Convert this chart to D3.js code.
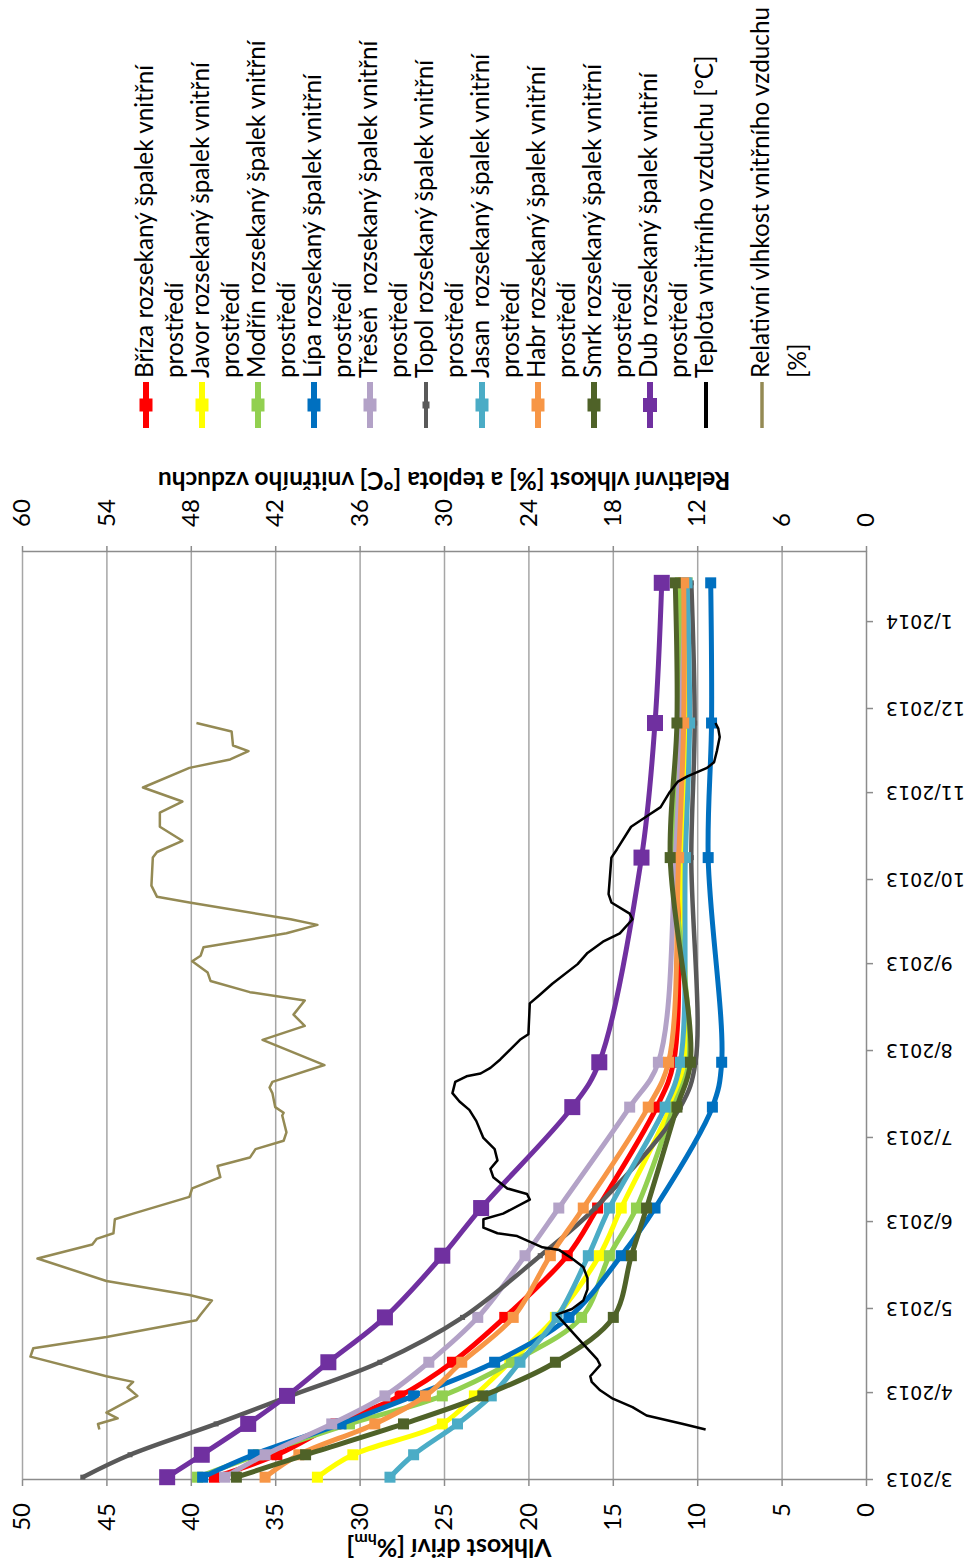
<!DOCTYPE html>
<html><head><meta charset="utf-8">
<script src="https://cdn.jsdelivr.net/npm/d3@7"></script>
<style>
body{margin:0;background:#fff}
svg{display:block}
text{white-space:pre}
</style>
</head><body>
<svg id="c" width="977" height="1566"></svg>
<script>
// ---------- DATA ----------
const measureDates = ["2013-03-02","2013-03-10","2013-03-21","2013-03-31","2013-04-12","2013-04-28","2013-05-20","2013-06-06","2013-07-12","2013-07-28","2013-10-09","2013-11-26","2014-01-15"];

const briza  = [38.6,34.9,31.4,27.6,24.5,21.4,17.7,15.9,12.4,11.4,11.05,10.7,10.7];
const javor  = [32.5,30.4,25.1,23.2,21.1,18.4,15.8,14.5,11.6,10.8,10.9,10.6,10.6];
const modrin = [39.6,36.0,30.6,25.1,21.0,16.85,15.2,13.6,11.4,10.5,11.4,11.0,11.0];
const lipa   = [39.3,36.3,31.1,26.8,22.0,17.6,14.5,12.5,9.1,8.55,9.35,9.15,9.2];
const tresen = [38.0,35.6,31.65,28.5,25.9,23.0,20.2,18.2,14.0,12.3,11.3,10.95,10.7];
const topol  = [46.4,43.6,38.5,34.1,28.8,23.9,19.3,16.05,11.0,10.1,10.35,10.15,10.35];
const jasan  = [28.2,26.8,24.2,22.2,20.5,18.3,16.45,15.2,11.9,11.0,10.7,10.45,10.6];
const habr   = [35.6,33.6,29.1,26.1,23.95,20.9,18.7,16.75,12.9,11.7,11.1,10.8,10.8];
const smrk   = [37.3,33.2,27.4,22.7,18.4,14.97,13.9,13.0,11.2,10.4,11.6,11.2,11.3];
const dub    = [41.4,39.35,36.6,34.3,31.85,28.5,25.1,22.8,17.4,15.8,13.3,12.5,12.1];

const tempDates = ["2013-03-19","2013-03-21","2013-03-24","2013-03-27","2013-03-30","2013-04-02","2013-04-05","2013-04-07","2013-04-11","2013-04-13","2013-04-19","2013-04-29","2013-05-01","2013-05-04","2013-05-08","2013-05-12","2013-05-16","2013-05-19","2013-05-22","2013-05-23","2013-05-27","2013-05-28","2013-05-30","2013-06-02","2013-06-04","2013-06-09","2013-06-11","2013-06-13","2013-06-17","2013-06-20","2013-06-23","2013-06-27","2013-07-01","2013-07-07","2013-07-11","2013-07-14","2013-07-17","2013-07-21","2013-07-23","2013-07-24","2013-07-26","2013-07-29","2013-08-05","2013-08-07","2013-08-18","2013-08-21","2013-08-25","2013-09-01","2013-09-05","2013-09-09","2013-09-12","2013-09-17","2013-09-19","2013-09-23","2013-09-26","2013-10-09","2013-10-12","2013-10-20","2013-10-24","2013-10-27","2013-11-01","2013-11-05","2013-11-07","2013-11-10","2013-11-12","2013-11-16","2013-11-21","2013-11-24","2013-11-26"];
const tempValues = [11.4,13.0,15.6,16.6,18.0,18.9,19.5,19.6,18.9,19.1,20.2,22.0,20.9,20.1,19.8,19.8,20.1,20.9,21.8,23.0,24.8,26.2,27.2,27.2,25.8,23.9,24.1,25.5,26.5,26.7,26.2,26.4,27.2,27.7,28.2,28.9,29.4,29.2,28.4,27.4,26.7,26.0,24.6,24.0,23.9,23.2,22.3,20.5,19.8,18.7,17.5,16.6,16.8,18.1,18.3,18.1,17.7,16.7,15.5,14.6,14.0,13.4,12.7,11.3,10.8,10.6,10.4,10.5,10.7];

const rhDates = ["2013-03-19","2013-03-21","2013-03-23","2013-03-25","2013-03-31","2013-04-03","2013-04-05","2013-04-07","2013-04-14","2013-04-17","2013-04-21","2013-04-27","2013-04-29","2013-05-04","2013-05-06","2013-05-11","2013-05-19","2013-05-24","2013-05-26","2013-05-28","2013-06-02","2013-06-04","2013-06-10","2013-06-13","2013-06-17","2013-06-21","2013-06-24","2013-06-27","2013-06-30","2013-07-03","2013-07-09","2013-07-10","2013-07-12","2013-07-17","2013-07-19","2013-07-21","2013-07-27","2013-08-05","2013-08-10","2013-08-14","2013-08-19","2013-08-22","2013-08-26","2013-08-29","2013-09-02","2013-09-04","2013-09-07","2013-09-12","2013-09-15","2013-09-17","2013-09-23","2013-09-25","2013-09-29","2013-10-09","2013-10-11","2013-10-15","2013-10-20","2013-10-25","2013-10-29","2013-11-03","2013-11-10","2013-11-13","2013-11-16","2013-11-18","2013-11-23","2013-11-26"];
const rhValues = [54.5,54.6,53.2,54.0,51.8,52.5,52.1,54.0,59.4,59.2,54.0,47.6,47.3,46.5,48.1,54.0,58.9,55.0,54.7,53.5,53.4,52.1,48.1,47.9,45.9,46.1,43.8,43.4,41.4,41.2,41.5,41.4,42.0,42.2,42.4,42.2,38.5,42.9,39.9,40.7,39.9,43.8,46.6,46.8,47.9,47.3,47.1,41.2,39.0,40.9,48.1,50.4,50.8,50.7,50.4,48.6,50.2,50.2,48.6,51.4,48.1,45.2,43.9,45.0,45.1,47.6];

const leftTicks  = [0,5,10,15,20,25,30,35,40,45,50];
const rightTicks = [0,6,12,18,24,30,36,42,48,54,60];

const seriesNames = ["Bříza rozsekaný špalek vnitřní","Javor rozsekaný špalek vnitřní","Modřín rozsekaný špalek vnitřní","Lípa rozsekaný špalek vnitřní","Třešeň  rozsekaný špalek vnitřní","Topol rozsekaný špalek vnitřní","Jasan  rozsekaný špalek vnitřní","Habr rozsekaný špalek vnitřní","Smrk rozsekaný špalek vnitřní","Dub rozsekaný špalek vnitřní"];
const seriesValues = [briza,javor,modrin,lipa,tresen,topol,jasan,habr,smrk,dub];
const seriesColors = ["#FF0000","#FFFF00","#92D050","#0070C0","#B3A2C7","#595959","#4BACC6","#F79646","#4F6228","#7030A0"];
const tempName = "Teplota vnitřního vzduchu [°C]";
const rhName = ["Relativní vlhkost vnitřního vzduchu","[%]"];

// ---------- CHART ----------
const parse = d3.timeParse("%Y-%m-%d");
const svg = d3.select("#c");
svg.append("rect").attr("width",977).attr("height",1566).attr("fill","#fff");
// landscape frame 1566 x 977, rotated 90deg counter-clockwise
const g = svg.append("g").attr("transform","translate(0,1566) rotate(-90)");

const x  = d3.scaleTime().domain([parse("2013-03-01"), parse("2014-01-26")]).range([86,1014]);
const yL = d3.scaleLinear().domain([0,50]).range([866,22]);
const yR = d3.scaleLinear().domain([0,60]).range([866,22]);

const gridC = "#a6a6a6", axisC = "#8c8c8c";
const fLabel = "Lato, 'Open Sans', sans-serif";

// gridlines
g.append("g").attr("transform","translate(86,0)")
  .call(d3.axisLeft(yL).tickValues(leftTicks.slice(1)).tickSize(-928).tickFormat(""))
  .call(s=>s.select(".domain").remove())
  .call(s=>s.selectAll("line").attr("stroke",gridC).attr("stroke-width",1.5));

// left axis
const gl = g.append("g").attr("transform","translate(86,0)")
  .call(d3.axisLeft(yL).tickValues(leftTicks).tickSize(6).tickPadding(17).tickSizeOuter(0));
// right axis
const gr = g.append("g").attr("transform","translate(1014,0)")
  .call(d3.axisRight(yR).tickValues(rightTicks).tickSize(6).tickPadding(19).tickSizeOuter(0));
[gl,gr].forEach(a=>{
  a.select(".domain").attr("stroke",axisC).attr("stroke-width",1.5);
  a.selectAll(".tick line").attr("stroke",axisC).attr("stroke-width",1.5);
  a.selectAll("text").attr("font-family",fLabel).attr("font-size",24).attr("fill","#000");
});

// date axis
const gx = g.append("g").attr("transform","translate(0,866)")
  .call(d3.axisBottom(x).ticks(d3.timeMonth.every(1))
     .tickFormat(d=>(d.getMonth()+1)+"/"+d.getFullYear()).tickSize(7).tickSizeOuter(0));
gx.select(".domain").attr("stroke",axisC).attr("stroke-width",1.5);
gx.selectAll(".tick line").attr("stroke",axisC).attr("stroke-width",1.5);
gx.selectAll("text").attr("x",0).attr("y",0).attr("dy","0.36em")
  .attr("transform","translate(0,20) rotate(-90)").attr("text-anchor","end")
  .attr("font-family","'DejaVu Sans', Verdana, sans-serif").attr("font-size",19).attr("fill","#000");

// axis titles
g.append("text").attr("transform","translate(27,449) rotate(-90)").attr("text-anchor","middle")
  .attr("font-family",fLabel).attr("font-weight","bold").attr("font-size",25)
  .call(t=>{t.append("tspan").text("Vlhkost dřiví [%");
            t.append("tspan").attr("font-size",16).attr("dy",5).text("hm");
            t.append("tspan").attr("dy",-5).text("]");});
g.append("text").attr("transform","translate(1094,444) rotate(-90)").attr("text-anchor","middle")
  .attr("font-family",fLabel).attr("font-weight","bold").attr("font-size",24.5)
  .text("Relativní vlhkost [%] a teplota [°C] vnitřního vzduchu");

// series
const line = d3.line().x(d=>x(d.date)).y(d=>yL(d.v)).curve(d3.curveCatmullRom.alpha(0.5));
const lineR = d3.line().x(d=>x(d.date)).y(d=>yR(d.v));
const plot = g.append("g");
seriesValues.forEach((vals,i)=>{
  const data = vals.map((v,j)=>({date:parse(measureDates[j]), v}));
  const isTopol = i===5, isDub = i===9;
  plot.append("path").datum(data).attr("d",line).attr("fill","none")
    .attr("stroke",seriesColors[i]).attr("stroke-width",isTopol?4.5:5).attr("stroke-linejoin","round");
  const ms = isDub?16:(isTopol?5:11);
  plot.append("g").selectAll("rect").data(data).join("rect")
    .attr("x",d=>x(d.date)-ms/2).attr("y",d=>yL(d.v)-ms/2).attr("width",ms).attr("height",ms)
    .attr("fill",seriesColors[i]);
});
const tData = tempValues.map((v,j)=>({date:parse(tempDates[j]), v}));
const rData = rhValues.map((v,j)=>({date:parse(rhDates[j]), v}));
plot.append("path").datum(tData).attr("d",lineR).attr("fill","none").attr("stroke","#000").attr("stroke-width",2.5).attr("stroke-linejoin","round");
plot.append("path").datum(rData).attr("d",lineR).attr("fill","none").attr("stroke","#948A54").attr("stroke-width",2.5).attr("stroke-linejoin","round");

// legend
const leg = g.append("g");
const legItems = seriesNames.map((n,i)=>({lines:[n,"prostředí"], color:seriesColors[i], lw:i===5?4:6, ms:i===5?7:(i===9?14:13)}));
legItems.push({lines:[tempName], color:"#000", lw:4, ms:0});
legItems.push({lines:rhName, color:"#948A54", lw:3.5, ms:0, gap2:37});
legItems.forEach((it,i)=>{
  const c = 146 + 56*i;
  leg.append("line").attr("x1",1138).attr("x2",1184).attr("y1",c).attr("y2",c)
    .attr("stroke",it.color).attr("stroke-width",it.lw);
  if(it.ms) leg.append("rect").attr("x",1161-it.ms/2).attr("y",c-it.ms/2).attr("width",it.ms).attr("height",it.ms).attr("fill",it.color);
  it.lines.forEach((t,k)=>{
    leg.append("text").attr("x",1188).attr("y",c+7+k*(it.gap2||30))
      .attr("font-family",fLabel).attr("font-size",24.3).attr("fill","#000").text(t);
  });
});
</script>
</body></html>
